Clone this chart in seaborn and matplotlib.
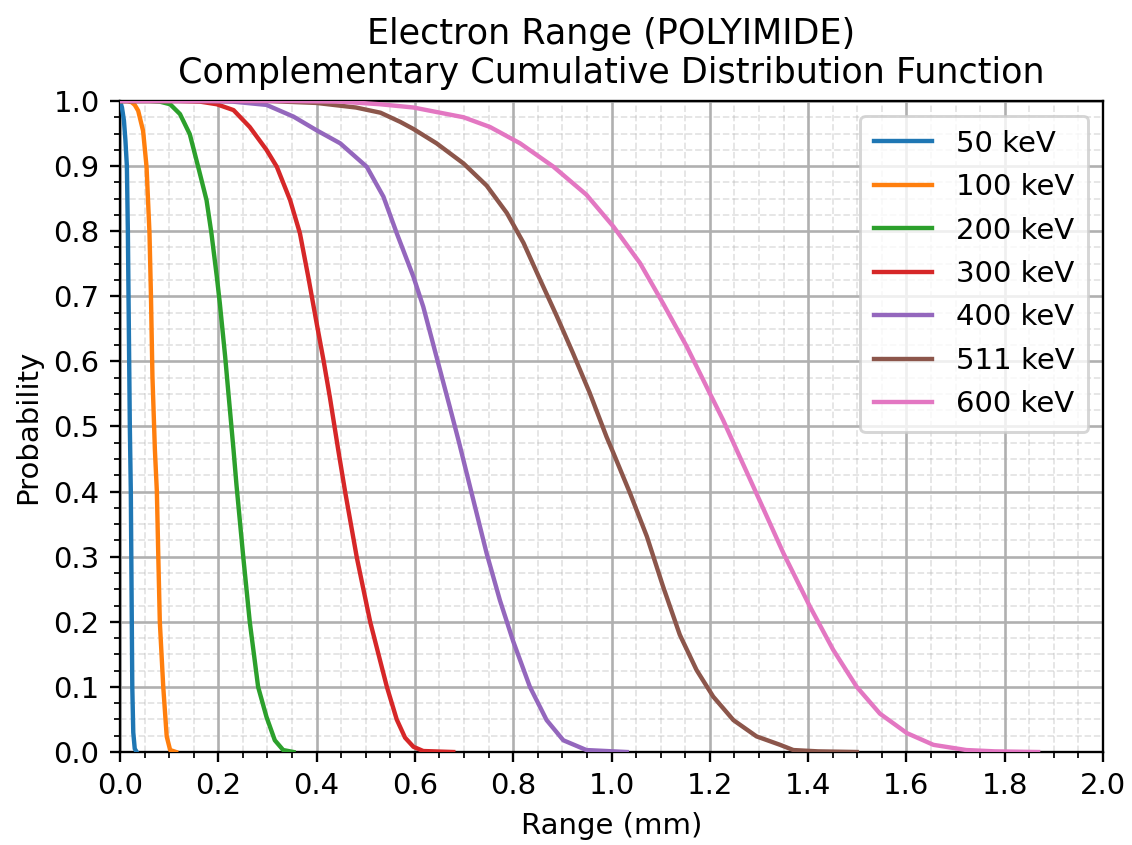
import numpy as np
import pandas as pd
import matplotlib
matplotlib.use("Agg")
import matplotlib.pyplot as plt
from matplotlib.ticker import MultipleLocator
import seaborn as sns

energies = ["50 keV", "100 keV", "200 keV", "300 keV", "400 keV", "511 keV", "600 keV"]

r50 = [0.000, 0.004, 0.008, 0.011, 0.014, 0.016, 0.018, 0.020, 0.022, 0.024, 0.025, 0.027, 0.030, 0.034]
p50 = [1.000, 0.990, 0.970, 0.940, 0.900, 0.800, 0.650, 0.500, 0.400, 0.200, 0.100, 0.030, 0.005, 0.000]

r100 = [0.000, 0.015, 0.024, 0.030, 0.037, 0.047, 0.054, 0.060, 0.063, 0.066, 0.071, 0.075, 0.078, 0.081, 0.088, 0.095, 0.102, 0.114]
p100 = [1.000, 1.000, 0.998, 0.994, 0.985, 0.954, 0.899, 0.797, 0.700, 0.577, 0.464, 0.400, 0.298, 0.200, 0.100, 0.024, 0.003, 0.000]

r200 = [0.000, 0.060, 0.081, 0.102, 0.122, 0.142, 0.159, 0.176, 0.186, 0.197, 0.203, 0.214, 0.220, 0.231, 0.237, 0.251, 0.264, 0.281, 0.298, 0.315, 0.332, 0.353]
p200 = [1.000, 1.000, 0.999, 0.995, 0.980, 0.949, 0.899, 0.848, 0.797, 0.730, 0.690, 0.607, 0.556, 0.464, 0.410, 0.298, 0.200, 0.100, 0.054, 0.018, 0.003, 0.000]

r300 = [0.000, 0.120, 0.163, 0.197, 0.231, 0.264, 0.298, 0.319, 0.346, 0.366, 0.383, 0.400, 0.414, 0.427, 0.444, 0.458, 0.482, 0.509, 0.529, 0.543, 0.563, 0.580, 0.597, 0.617, 0.678]
p300 = [1.000, 1.000, 0.999, 0.995, 0.986, 0.960, 0.925, 0.899, 0.848, 0.797, 0.730, 0.659, 0.602, 0.545, 0.464, 0.400, 0.298, 0.200, 0.141, 0.100, 0.050, 0.022, 0.008, 0.0015, 0.000]

r400 = [0.000, 0.180, 0.230, 0.298, 0.353, 0.400, 0.448, 0.502, 0.536, 0.563, 0.597, 0.617, 0.644, 0.671, 0.690, 0.712, 0.746, 0.773, 0.800, 0.834, 0.868, 0.902, 0.949, 1.031]
p400 = [1.000, 1.000, 0.999, 0.994, 0.976, 0.955, 0.935, 0.899, 0.853, 0.797, 0.730, 0.684, 0.607, 0.530, 0.475, 0.408, 0.305, 0.233, 0.170, 0.100, 0.049, 0.018, 0.003, 0.000]

r511 = [0.000, 0.300, 0.400, 0.480, 0.530, 0.570, 0.597, 0.644, 0.699, 0.746, 0.787, 0.821, 0.855, 0.889, 0.922, 0.956, 0.990, 1.004, 1.038, 1.072, 1.105, 1.139, 1.173, 1.207, 1.248, 1.295, 1.343, 1.370, 1.420, 1.499]
p511 = [1.000, 1.000, 0.997, 0.990, 0.982, 0.968, 0.957, 0.935, 0.904, 0.870, 0.828, 0.782, 0.725, 0.669, 0.612, 0.551, 0.484, 0.459, 0.397, 0.331, 0.254, 0.180, 0.126, 0.085, 0.049, 0.024, 0.011, 0.003, 0.001, 0.000]

r600 = [0.000, 0.350, 0.450, 0.529, 0.597, 0.699, 0.753, 0.814, 0.882, 0.949, 1.004, 1.058, 1.105, 1.153, 1.200, 1.227, 1.248, 1.295, 1.350, 1.404, 1.451, 1.499, 1.546, 1.601, 1.655, 1.722, 1.780, 1.868]
p600 = [1.000, 1.000, 0.999, 0.995, 0.990, 0.975, 0.960, 0.935, 0.899, 0.856, 0.807, 0.751, 0.689, 0.623, 0.551, 0.510, 0.475, 0.397, 0.305, 0.223, 0.157, 0.100, 0.059, 0.029, 0.011, 0.003, 0.001, 0.000]

ranges = [r50, r100, r200, r300, r400, r511, r600]
probs = [p50, p100, p200, p300, p400, p511, p600]

frames = []
for e, r, p in zip(energies, ranges, probs):
    frames.append(pd.DataFrame({"Range": r, "Probability": p, "Energy": e}))
df = pd.concat(frames, ignore_index=True)

dpi = 210
fig = plt.figure(figsize=(1132 / dpi, 845 / dpi), dpi=dpi)
ax = fig.add_axes([120 / 1132, 1 - 752 / 845, (1103 - 120) / 1132, (752 - 101) / 845])

palette = sns.color_palette("tab10", 7)
sns.lineplot(data=df, x="Range", y="Probability", hue="Energy", hue_order=energies,
             palette=palette, estimator=None, sort=False, linewidth=1.5, ax=ax, zorder=3)

ax.set_xlim(0, 2.0)
ax.set_ylim(0, 1.0)
ax.xaxis.set_major_locator(MultipleLocator(0.2))
ax.xaxis.set_minor_locator(MultipleLocator(0.05))
ax.yaxis.set_major_locator(MultipleLocator(0.1))
ax.yaxis.set_minor_locator(MultipleLocator(0.025))
ax.grid(which="major", color="#b0b0b0", linewidth=0.9, linestyle="-", zorder=0)
ax.grid(which="minor", color="#b0b0b0", linewidth=0.6, linestyle="--", alpha=0.35, zorder=0)
ax.set_axisbelow(True)

ax.set_xlabel("Range (mm)")
ax.set_ylabel("Probability")
ax.set_title("Electron Range (POLYIMIDE)\nComplementary Cumulative Distribution Function", fontsize=12)
ax.legend(loc="upper right", labelspacing=0.53, borderpad=0.48)

fig.savefig("out.png", dpi=dpi)
